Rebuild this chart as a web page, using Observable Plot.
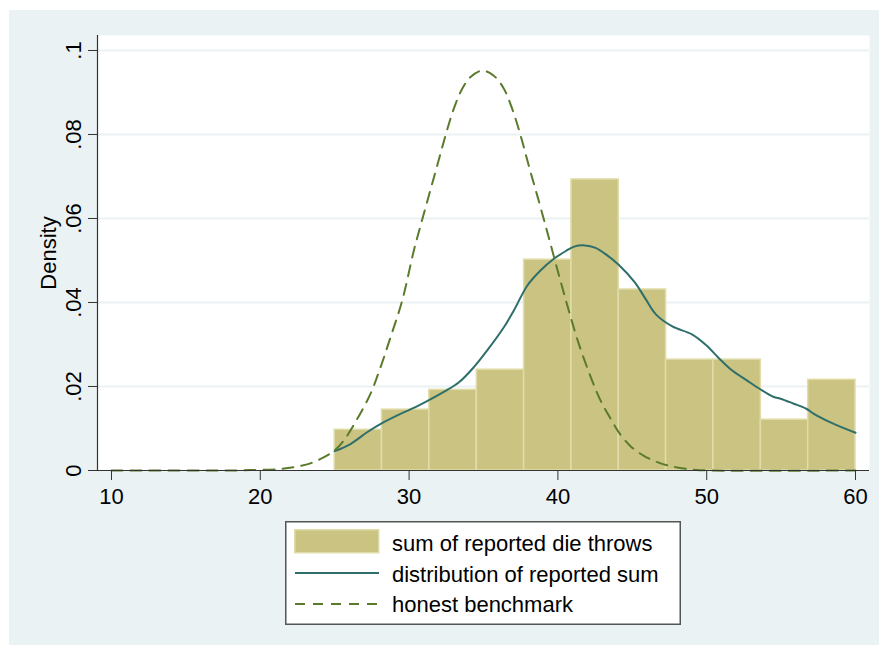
<!DOCTYPE html>
<html><head><meta charset="utf-8">
<script src="https://cdn.jsdelivr.net/npm/d3@7"></script>
<script src="https://cdn.jsdelivr.net/npm/@observablehq/plot@0.6"></script>
<style>
body{margin:0;background:#fff;}
#wrap{position:relative;width:879px;height:645px;overflow:hidden;font-family:"Liberation Sans",Arial,sans-serif;}
#panel{position:absolute;left:9px;top:10px;width:870px;height:635px;background:#EAF2F3;}
#chart{position:absolute;left:0;top:0;}
#legend{position:absolute;left:285px;top:521px;}
</style></head><body>
<div id="wrap"><div id="panel"></div><div id="chart"></div><div id="legend"></div></div>
<script>
// ---- data ----
const binEdges = [25, 28.18, 31.36, 34.55, 37.73, 40.91, 44.09, 47.27, 50.45, 53.64, 56.82, 60];
const binDensity = [0.0097, 0.0145, 0.0192, 0.0240, 0.0502, 0.0693, 0.0431, 0.0264, 0.0264, 0.0121, 0.0216];

const kernelX = [25, 26.06, 27.18, 28.30, 29.42, 30.43, 31.21, 32.33, 33.35, 34.35, 35.25, 36.37, 37.04, 37.94, 38.83, 39.73, 40.51, 41.09, 41.81, 42.53, 43.25, 44.08, 45.17, 45.9, 46.60, 47.69, 49.01, 49.97, 50.8, 51.65, 52.72, 53.57, 54.51, 54.96, 55.85, 56.69, 57.20, 58.54, 60];
const kernelY = [0.0046, 0.0063, 0.0091, 0.0115, 0.0135, 0.0151, 0.0165, 0.0187, 0.0210, 0.0246, 0.0286, 0.0341, 0.0381, 0.0440, 0.0476, 0.0504, 0.0522, 0.0533, 0.0536, 0.0530, 0.0514, 0.0490, 0.0448, 0.0408, 0.0371, 0.0343, 0.0324, 0.0298, 0.0268, 0.0240, 0.0214, 0.0194, 0.0175, 0.0171, 0.0159, 0.0147, 0.0135, 0.0111, 0.0090];

const benchX = [10, 18, 19.3, 21.1, 22.25, 23.37, 24.5, 25.0, 25.6, 26.45, 27.41, 28.08, 28.75, 29.54, 30.32, 30.77, 31.33, 31.89, 32.45, 33.0, 33.57, 34.13, 34.91, 35.69, 36.37, 36.93, 37.49, 38.04, 38.61, 39.17, 39.62, 40.17, 40.73, 41.40, 42.30, 42.86, 43.53, 44.21, 44.88, 45.77, 46.90, 48.02, 49.13, 50.25, 60];
const benchY = [0, 0, 0.0001, 0.0003, 0.0008, 0.0017, 0.0036, 0.0048, 0.0071, 0.0119, 0.0183, 0.0246, 0.0317, 0.0405, 0.0524, 0.0583, 0.0655, 0.0726, 0.0798, 0.0861, 0.0909, 0.0937, 0.0952, 0.0940, 0.0909, 0.0861, 0.0798, 0.0726, 0.0655, 0.0583, 0.0524, 0.0452, 0.0381, 0.0302, 0.0214, 0.0167, 0.0124, 0.0085, 0.0058, 0.0035, 0.0017, 0.0007, 0.0002, 0, 0];

const xTicks = [10, 20, 30, 40, 50, 60];
const yTicks = [0, 0.02, 0.04, 0.06, 0.08, 0.1];
const yTickLabels = ["0", ".02", ".04", ".06", ".08", ".1"];
const xDomain = [9.06, 60.94];
const yDomain = [0, 0.10357];
const yLabel = "Density";
const legendLabels = ["sum of reported die throws", "distribution of reported sum", "honest benchmark"];

// ---- colours ----
const barFill = "#CBC382", barStroke = "#E1DDAA";
const kernelColor = "#2F6F6B", benchColor = "#5A7A2C";
const font = '"Liberation Sans", Arial, sans-serif';

const bars = binDensity.map((d, i) => ({x1: binEdges[i], x2: binEdges[i + 1], y: d}));
const kernel = kernelX.map((x, i) => ({x, y: kernelY[i]}));
const bench = benchX.map((x, i) => ({x, y: benchY[i]}));

const chart = Plot.plot({
  width: 879, height: 520,
  marginLeft: 97, marginRight: 10, marginTop: 35, marginBottom: 50,
  style: {background: "transparent", fontFamily: font, fontSize: "22px", color: "#000"},
  x: {domain: xDomain},
  y: {domain: yDomain},
  marks: [
    Plot.frame({fill: "white", stroke: "none"}),
    Plot.gridY(yTicks.filter(t => t > 0), {stroke: "#EAF2F3", strokeOpacity: 1, strokeWidth: 2}),
    Plot.rectY(bars, {x1: "x1", x2: "x2", y: "y", fill: barFill, stroke: barStroke, strokeWidth: 1.5}),
    Plot.line(kernel, {x: "x", y: "y", stroke: kernelColor, strokeWidth: 2, curve: "catmull-rom"}),
    Plot.line(bench, {x: "x", y: "y", stroke: benchColor, strokeWidth: 2, strokeDasharray: "11,8", curve: "catmull-rom"}),
    Plot.ruleX([xDomain[0]], {stroke: "#333", strokeWidth: 1.2}),
    Plot.ruleY([0], {stroke: "#333", strokeWidth: 1.2}),
    Plot.axisX(xTicks, {tickSize: 10, tickPadding: 8, stroke: "#333", label: null}),
    Plot.axisY(yTicks, {tickSize: 9, tickPadding: 8, tickRotate: -90, stroke: "#333", label: null,
      tickFormat: d => yTickLabels[yTicks.indexOf(d)]}),
    Plot.text([yLabel], {frameAnchor: "left", dx: -42, rotate: -90, textAnchor: "middle", lineAnchor: "bottom", text: d => d, fontSize: 22})
  ]
});
document.getElementById("chart").append(chart);

// ---- legend ----
const lg = d3.create("svg").attr("width", 396).attr("height", 104)
  .style("font-family", font).style("font-size", "22px");
lg.append("rect").attr("x", 0.75).attr("y", 0.75).attr("width", 394.5).attr("height", 102.5)
  .attr("fill", "white").attr("stroke", "#555").attr("stroke-width", 1.5);
lg.append("rect").attr("x", 9.75).attr("y", 8.75).attr("width", 84).attr("height", 23)
  .attr("fill", barFill).attr("stroke", barStroke).attr("stroke-width", 1.5);
lg.append("line").attr("x1", 10).attr("x2", 94).attr("y1", 52).attr("y2", 52)
  .attr("stroke", kernelColor).attr("stroke-width", 2);
lg.append("line").attr("x1", 10).attr("x2", 94).attr("y1", 83).attr("y2", 83)
  .attr("stroke", benchColor).attr("stroke-width", 2).attr("stroke-dasharray", "10,8");
lg.selectAll("text.lab").data(legendLabels).join("text").attr("class", "lab")
  .attr("x", 107).attr("y", (d, i) => [30, 61, 91][i]).attr("fill", "#000").text(d => d);
document.getElementById("legend").append(lg.node());
</script>
</body></html>
